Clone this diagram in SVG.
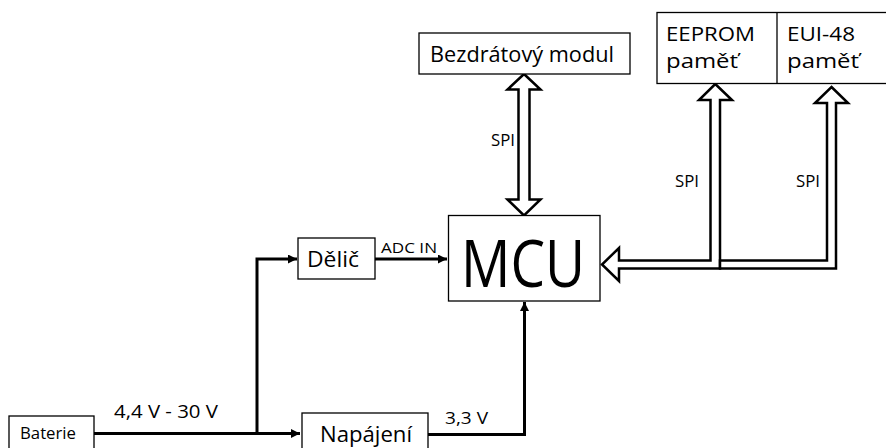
<svg xmlns="http://www.w3.org/2000/svg" width="886" height="448" viewBox="0 0 886 448">
<defs>
<style>
.box{fill:#fff;stroke:#000;stroke-width:1.3}
.t{font-family:"Open Sans","Liberation Sans",sans-serif;fill:#000}
.wire{fill:none;stroke:#000;stroke-width:3}
.bus{fill:#fff;stroke:#000;stroke-width:2.5;stroke-linejoin:miter}
</style>
<marker id="ah" viewBox="0 0 10 10" refX="10" refY="5" markerWidth="10" markerHeight="9" markerUnits="userSpaceOnUse" orient="auto">
<path d="M0,0 L10,5 L0,10 Z" fill="#000"/>
</marker>
</defs>
<rect width="886" height="448" fill="#fff"/>

<g id="connectors">
<path class="wire" d="M94,433.5 H300" marker-end="url(#ah)"/>
<path class="wire" d="M257,433.5 V259 H297" marker-end="url(#ah)"/>
<path class="wire" d="M375,259 H447" marker-end="url(#ah)"/>
<path class="wire" d="M428,434.5 H524.5 V302" marker-end="url(#ah)"/>
<polygon class="bus" points="524,74 540.5,89.5 529.5,89.5 529.5,199.5 540.5,199.5 524,215.5 507.5,199.5 518.5,199.5 518.5,89.5 507.5,89.5"/>
<polygon class="bus" points="715.25,84 732,100 720,100 720,268.5 619,268.5 619,281 602,264.5 619,248 619,260.5 710.5,260.5 710.5,100 699,100"/>
<polygon class="bus" points="831.5,87 848,103 836,103 836,268.5 720,268.5 720,260.5 827,260.5 827,103 815,103"/>
<text class="t" x="491" y="146" font-size="17" textLength="24" lengthAdjust="spacingAndGlyphs">SPI</text>
<text class="t" x="675" y="187" font-size="17" textLength="24" lengthAdjust="spacingAndGlyphs">SPI</text>
<text class="t" x="796" y="187" font-size="17" textLength="24" lengthAdjust="spacingAndGlyphs">SPI</text>
<text class="t" x="381" y="253" font-size="15" textLength="56" lengthAdjust="spacingAndGlyphs">ADC IN</text>
<text class="t" x="114" y="418" font-size="18" textLength="104" lengthAdjust="spacingAndGlyphs">4,4 V - 30 V</text>
<text class="t" x="445" y="424" font-size="16" textLength="43" lengthAdjust="spacingAndGlyphs">3,3 V</text>
</g>

<g id="bezdratovy">
<rect class="box" x="419" y="33" width="211" height="41"/>
<text class="t" x="430" y="62" font-size="22" textLength="184" lengthAdjust="spacingAndGlyphs">Bezdrátový modul</text>
</g>

<g id="pamet">
<rect class="box" x="657" y="12.5" width="240" height="71"/>
<line x1="777" y1="12.5" x2="777" y2="83.5" stroke="#000" stroke-width="1.3"/>
<text class="t" x="666" y="41" font-size="20" textLength="89" lengthAdjust="spacingAndGlyphs">EEPROM</text>
<text class="t" x="666" y="68" font-size="20" textLength="72" lengthAdjust="spacingAndGlyphs">paměť</text>
<text class="t" x="787" y="41" font-size="20" textLength="68" lengthAdjust="spacingAndGlyphs">EUI-48</text>
<text class="t" x="787" y="68" font-size="20" textLength="72" lengthAdjust="spacingAndGlyphs">paměť</text>
</g>

<g id="mcu">
<rect class="box" x="448.5" y="215.5" width="151.5" height="85.5"/>
<text class="t" x="461" y="287" font-size="66" textLength="124" lengthAdjust="spacingAndGlyphs">MCU</text>
</g>

<g id="delic">
<rect class="box" x="298" y="238" width="77" height="41"/>
<text class="t" x="307" y="267" font-size="22" textLength="52" lengthAdjust="spacingAndGlyphs">Dělič</text>
</g>

<g id="baterie">
<rect class="box" x="9" y="416" width="85" height="40"/>
<text class="t" x="20" y="439" font-size="17" textLength="56" lengthAdjust="spacingAndGlyphs">Baterie</text>
</g>

<g id="napajeni">
<rect class="box" x="302" y="413" width="126" height="43"/>
<text class="t" x="320" y="442" font-size="22" textLength="92" lengthAdjust="spacingAndGlyphs">Napájení</text>
</g>
</svg>
